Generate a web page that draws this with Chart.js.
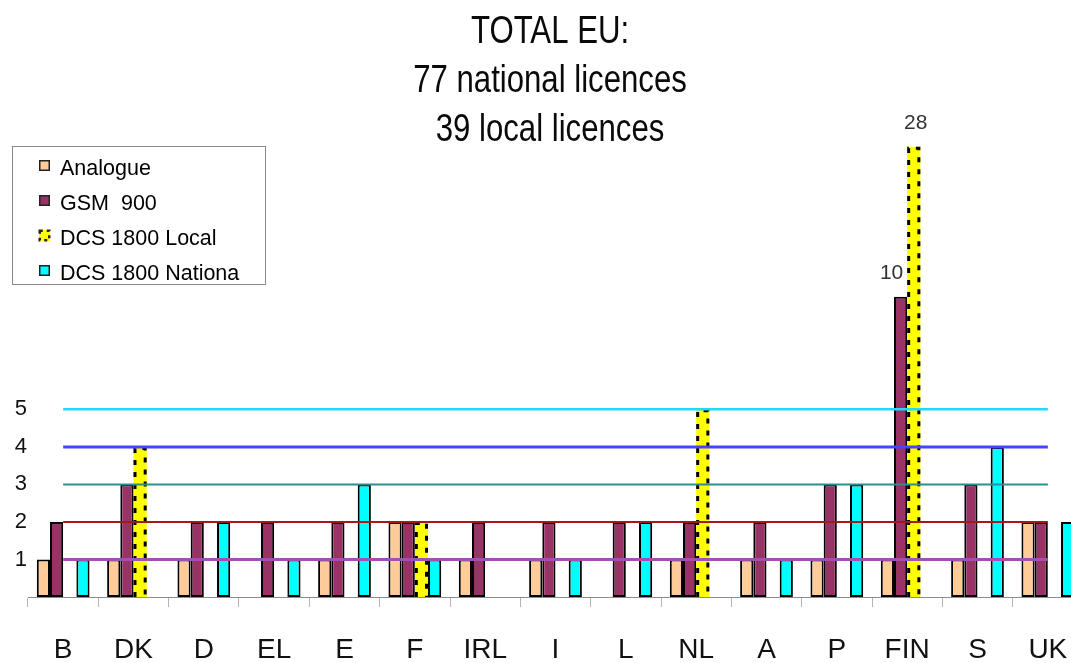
<!DOCTYPE html>
<html>
<head>
<meta charset="utf-8">
<title>Mobile licences in the EU</title>
<script src="https://cdn.jsdelivr.net/npm/chart.js@4/dist/chart.umd.min.js"></script>
<style>
  html, body { margin: 0; padding: 0; background: #fff; overflow: hidden; }
  #wrap { position: absolute; left: 0; top: 0; width: 1083px; height: 663px; }
</style>
</head>
<body>
<div id="wrap"><canvas id="chart"></canvas></div>
<script>
// Licences per member state
const countries   = ['B', 'DK', 'D', 'EL', 'E', 'F', 'IRL', 'I', 'L', 'NL', 'A', 'P', 'FIN', 'S', 'UK'];
const analogue    = [1, 1, 1, null, 1, 2, 1, 1, null, 1, 1, 1, 1, 1, 2];
const gsm900      = [2, 3, 2, 2, 2, 2, 2, 2, 2, 2, 2, 3, 10, 3, 2];
const dcsLocal    = [null, 4, null, null, null, 2, null, null, null, 5, null, null, 28, null, null];
const dcsNational = [1, null, 2, 1, 3, 1, null, 1, 2, null, 1, 3, null, 4, 2];

const seriesNames = ['Analogue', 'GSM  900', 'DCS 1800 Local', 'DCS 1800 Nationa'];
const yTickValues = [1, 2, 3, 4, 5];
const referenceLevels = [1, 2, 3, 4, 5];
const titleLines = ['TOTAL EU:', '77 national licences', '39 local licences'];

// The value axis is linear up to 5 and compressed above it
const axisValueKnots = [0, 5, 10, 28];
const axisUnitKnots  = [0, 5, 8, 12];

function toUnits(v) {
  const k = axisValueKnots, u = axisUnitKnots;
  let i = 0;
  while (i < k.length - 2 && v > k[i + 1]) i++;
  return u[i] + (v - k[i]) * (u[i + 1] - u[i]) / (k[i + 1] - k[i]);
}
function fromUnits(x) {
  const k = axisValueKnots, u = axisUnitKnots;
  let i = 0;
  while (i < u.length - 2 && x > u[i + 1]) i++;
  return k[i] + (x - u[i]) * (k[i + 1] - k[i]) / (u[i + 1] - u[i]);
}

class CompressedScale extends Chart.LinearScale {
  static id = 'compressed';
  static defaults = Chart.LinearScale.defaults;
  getPixelForValue(value) {
    const u0 = toUnits(this.min), u1 = toUnits(this.max);
    return this.getPixelForDecimal((toUnits(value) - u0) / (u1 - u0));
  }
  getValueForPixel(pixel) {
    const u0 = toUnits(this.min), u1 = toUnits(this.max);
    return fromUnits(u0 + this.getDecimalForPixel(pixel) * (u1 - u0));
  }
}
Chart.register(CompressedScale);

const FONT = '"Liberation Sans", Arial, sans-serif';

// Three-line heading in a condensed face
const titlePlugin = {
  id: 'stackedTitle',
  afterDraw(chart, args, opts) {
    const ctx = chart.ctx;
    ctx.save();
    ctx.font = opts.font;
    ctx.fillStyle = opts.color;
    ctx.textAlign = 'center';
    ctx.textBaseline = 'alphabetic';
    opts.lines.forEach((line, i) => {
      ctx.save();
      ctx.translate(opts.x, opts.firstBaseline + i * opts.lineGap);
      ctx.scale(opts.condense, 1);
      ctx.fillText(line, 0, 0);
      ctx.restore();
    });
    ctx.restore();
  }
};

// Dotted outline for the local-licence bars, then the level lines on top
const overlayPlugin = {
  id: 'overlay',
  afterDatasetsDraw(chart, args, opts) {
    const ctx = chart.ctx;
    ctx.save();
    // dotted outline
    const meta = chart.getDatasetMeta(opts.dottedDataset);
    meta.data.forEach((bar, i) => {
      if (chart.data.datasets[opts.dottedDataset].data[i] == null) return;
      const p = bar.getProps(['x', 'y', 'base', 'width'], true);
      const left = p.x - p.width / 2 + 1.5, right = p.x + p.width / 2 - 1.5;
      ctx.strokeStyle = '#000';
      ctx.lineWidth = 3;
      ctx.setLineDash([5, 7]);
      ctx.beginPath();
      ctx.moveTo(left, p.base); ctx.lineTo(left, p.y + 1.5);
      ctx.lineTo(right, p.y + 1.5); ctx.lineTo(right, p.base);
      ctx.stroke();
    });
    ctx.setLineDash([]);
    // level lines from the first to the last category
    const xs = chart.scales.x, ys = chart.scales.y;
    const x0 = xs.getPixelForValue(0), x1 = xs.getPixelForValue(countries.length - 1);
    referenceLevels.forEach((lv, i) => {
      const y = ys.getPixelForValue(lv);
      ctx.strokeStyle = opts.colors[i];
      ctx.lineWidth = opts.widths[i];
      ctx.beginPath();
      ctx.moveTo(x0, y); ctx.lineTo(x1, y);
      ctx.stroke();
    });
    // value labels for bars that go beyond the labelled range
    ctx.font = opts.labelFont;
    ctx.fillStyle = opts.labelColor;
    ctx.textAlign = 'center';
    ctx.textBaseline = 'alphabetic';
    chart.data.datasets.forEach((ds, di) => {
      const m = chart.getDatasetMeta(di);
      ds.data.forEach((v, i) => {
        if (v == null || v <= yTickValues[yTickValues.length - 1]) return;
        const bar = m.data[i];
        const dx = opts.labelShift[di] || 0;
        ctx.fillText(String(v), bar.x + dx, bar.y - 18);
      });
    });
    ctx.restore();
  }
};

// Boxed legend in the upper left corner
const boxLegendPlugin = {
  id: 'boxLegend',
  afterDraw(chart, args, opts) {
    const ctx = chart.ctx;
    ctx.save();
    ctx.fillStyle = '#fff';
    ctx.fillRect(opts.left, opts.top, opts.width, opts.height);
    ctx.strokeStyle = opts.borderColor;
    ctx.lineWidth = 1;
    ctx.strokeRect(opts.left + 0.5, opts.top + 0.5, opts.width, opts.height);
    ctx.font = opts.font;
    ctx.textBaseline = 'alphabetic';
    ctx.textAlign = 'left';
    chart.data.datasets.forEach((ds, i) => {
      const base = opts.firstBaseline + i * opts.rowGap;
      const mx = opts.markerX, my = base - 15, s = opts.markerSize;
      ctx.fillStyle = ds.backgroundColor;
      ctx.fillRect(mx, my, s, s);
      ctx.strokeStyle = '#222';
      ctx.lineWidth = 1.5;
      if (i === opts.dottedDataset) {
        ctx.setLineDash([3, 4]);
        ctx.lineWidth = 2.5;
      }
      ctx.strokeRect(mx + 0.75, my + 0.75, s - 1.5, s - 1.5);
      ctx.setLineDash([]);
      ctx.fillStyle = '#000';
      ctx.fillText(ds.label, opts.textX, base);
    });
    ctx.restore();
  }
};

const barStyle = { borderColor: '#000', borderWidth: 2, borderSkipped: false };

new Chart(document.getElementById('chart'), {
  type: 'bar',
  data: {
    labels: countries,
    datasets: [
      { label: seriesNames[0], data: analogue,    backgroundColor: '#FFCC99', ...barStyle },
      { label: seriesNames[1], data: gsm900,      backgroundColor: '#993366', ...barStyle },
      { label: seriesNames[2], data: dcsLocal,    backgroundColor: '#FFFF00', borderWidth: 0 },
      { label: seriesNames[3], data: dcsNational, backgroundColor: '#00FFFF', ...barStyle }
    ]
  },
  options: {
    responsive: true,
    maintainAspectRatio: false,
    animation: false,
    layout: { padding: { top: 130, left: 0, right: 0, bottom: 0 } },
    datasets: { bar: { categoryPercentage: 0.75, barPercentage: 1.0 } },
    scales: {
      x: {
        afterFit(scale) {
          scale.height = 66;
          scale.paddingLeft = 0;
          scale.paddingRight = 0;
        },
        grid: { offset: true, drawOnChartArea: false, drawTicks: true, tickLength: 10, color: '#b4b4b4' },
        border: { display: true, color: '#8c8c8c', width: 1 },
        ticks: { font: { family: FONT, size: 28 }, color: '#111', padding: 26, maxRotation: 0, autoSkip: false }
      },
      y: {
        type: 'compressed',
        min: 0,
        max: 30,
        afterFit(scale) { scale.width = 28; },
        afterBuildTicks(scale) { scale.ticks = yTickValues.map(v => ({ value: v })); },
        grid: { display: false, drawTicks: false },
        border: { display: false },
        ticks: { font: { family: FONT, size: 22 }, color: '#111', padding: 1 }
      }
    },
    plugins: {
      legend: { display: false },
      tooltip: { enabled: false },
      title: { display: false },
      stackedTitle: {
        lines: titleLines, font: '38px ' + FONT, color: '#0a0a0a',
        x: 550, firstBaseline: 43, lineGap: 49, condense: 0.82
      },
      overlay: {
        dottedDataset: 2,
        colors: ['#A24FB2', '#A01A1A', '#2A8F8F', '#4545FF', '#22D8FF'],
        widths: [3, 2, 2, 3, 2.5],
        labelFont: '21px ' + FONT, labelColor: '#333',
        labelShift: { 1: -9, 2: 2 }
      },
      boxLegend: {
        left: 12, top: 146, width: 253, height: 138, borderColor: '#8a8a8a',
        font: '21.5px ' + FONT, firstBaseline: 175, rowGap: 35,
        markerX: 39, markerSize: 11, textX: 60, dottedDataset: 2
      }
    }
  },
  plugins: [overlayPlugin, titlePlugin, boxLegendPlugin]
});
</script>
</body>
</html>
